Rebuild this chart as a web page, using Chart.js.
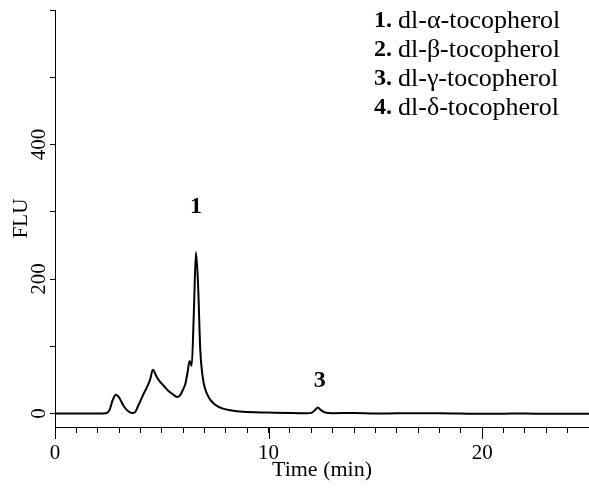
<!DOCTYPE html>
<html>
<head>
<meta charset="utf-8">
<script src="https://cdn.jsdelivr.net/npm/chart.js@4.4.1/dist/chart.umd.min.js"></script>
<style>
  html, body { margin: 0; padding: 0; background: #fff; }
</style>
</head>
<body>
<canvas id="chromChart" width="589" height="489"></canvas>
<script>
// chromatogram trace (time in min, FLU)
const timeMin = [0, 1, 2, 2.4, 2.55, 2.7, 2.85, 3.0, 3.2, 3.4, 3.6, 3.75, 3.9, 4.1, 4.3, 4.45, 4.58,
  4.75, 4.92, 5.1, 5.3, 5.5, 5.72, 5.85, 6.0, 6.1, 6.2, 6.3, 6.4, 6.5, 6.6, 6.7, 6.8, 6.9, 7.0,
  7.2, 7.5, 7.8, 8.2, 8.8, 10, 11, 11.8, 12.0, 12.2, 12.3, 12.45, 12.65, 13, 14, 15, 16, 17, 18,
  19, 20, 21, 22, 23, 24, 25];
const fluValues = [0, 0, 0, 0.5, 5, 20, 28, 24, 12, 4, 0.8, 2, 12, 26, 39, 50, 65,
  55, 47, 41, 34, 29, 24.6, 27, 36, 44, 60, 78, 71, 150, 240, 190, 95, 58, 40,
  24, 13, 8, 5, 2.5, 1.5, 0.8, 0.5, 1, 6, 9, 5, 1.5, 0.5, 0.8, 0, 0.3, 0.5, 0.3,
  0, -0.3, -0.2, 0, -0.3, -0.3, -0.3];

const xTickValues = [0, 1, 2, 3, 4, 5, 6, 7, 8, 9, 10, 11, 12, 13, 14, 15, 16, 17, 18, 19, 20, 21, 22, 23, 24, 25];
const xMajorTicks = [0, 10, 20];
const yTickValues = [0, 100, 200, 300, 400, 500, 600];
const yLabelled = [0, 200, 400];

const peakLabels = ["1", "3"];
const peakTimes = [6.6, 12.4];
const peakLabelY = [307, 48];

const compoundNums = ["1.", "2.", "3.", "4."];
const compoundNames = ["dl-α-tocopherol", "dl-β-tocopherol", "dl-γ-tocopherol", "dl-δ-tocopherol"];

const serif = '"Liberation Serif", "Times New Roman", serif';

const points = timeMin.map((t, i) => ({ x: t, y: fluValues[i] }));

const annotPlugin = {
  id: 'annot',
  afterDraw(chart) {
    const { ctx } = chart;
    const x = chart.scales.x, y = chart.scales.y;
    ctx.save();
    // longer ticks at the labelled minutes
    ctx.strokeStyle = '#000';
    ctx.lineWidth = 1;
    xMajorTicks.forEach(v => {
      const px = Math.round(x.getPixelForValue(v)) + 0.5;
      ctx.beginPath();
      ctx.moveTo(px, y.bottom);
      ctx.lineTo(px, y.bottom + 12);
      ctx.stroke();
    });
    // peak numbers
    ctx.fillStyle = '#000';
    ctx.font = 'bold 24px ' + serif;
    ctx.textAlign = 'center';
    ctx.textBaseline = 'middle';
    peakLabels.forEach((lab, i) => {
      ctx.fillText(lab, x.getPixelForValue(peakTimes[i]), y.getPixelForValue(peakLabelY[i]));
    });
    // compound list, top right
    ctx.textAlign = 'left';
    compoundNums.forEach((num, i) => {
      const ty = 21 + i * 29;
      ctx.font = 'bold 24px ' + serif;
      ctx.fillText(num, 374, ty);
      ctx.font = '26px ' + serif;
      ctx.fillText(compoundNames[i], 398, ty);
    });
    ctx.restore();
  }
};

const ctx = document.getElementById('chromChart').getContext('2d');
const chromChart = new Chart(ctx, {
  type: 'line',
  data: {
    datasets: [{
      data: points,
      borderColor: '#000',
      borderWidth: 2,
      pointRadius: 0,
      cubicInterpolationMode: 'monotone',
      fill: false
    }]
  },
  options: {
    responsive: false,
    animation: false,
    layout: { padding: { top: 10, right: 0, left: 0, bottom: 0 } },
    plugins: { legend: { display: false }, tooltip: { enabled: false } },
    scales: {
      x: {
        type: 'linear',
        min: 0,
        max: 25,
        afterBuildTicks: s => { s.ticks = xTickValues.map(v => ({ value: v })); },
        afterFit: s => { s.height = 62; s.paddingLeft = 0; s.paddingRight = 0; },
        grid: { drawOnChartArea: false, tickLength: 6, tickColor: '#000', tickWidth: 1 },
        border: { color: '#000', width: 1 },
        ticks: {
          autoSkip: false, maxRotation: 0, padding: 8, color: '#000',
          font: { family: serif, size: 21 },
          callback: v => xMajorTicks.includes(v) ? String(v) : ''
        },
        title: {
          display: true, text: 'Time (min)', color: '#000',
          font: { family: serif, size: 22 }, padding: { bottom: 6, top: 0 }
        }
      },
      y: {
        min: -20,
        max: 600,
        afterBuildTicks: s => { s.ticks = yTickValues.map(v => ({ value: v })); },
        afterFit: s => { s.width = 55; s.paddingTop = 0; s.paddingBottom = 0; },
        grid: { drawOnChartArea: false, tickLength: 5, tickColor: '#000', tickWidth: 1 },
        border: { color: '#000', width: 1 },
        ticks: {
          minRotation: 90, maxRotation: 90, crossAlign: 'center', padding: -5, color: '#000',
          font: { family: serif, size: 21 },
          callback: v => yLabelled.includes(v) ? String(v) : ''
        },
        title: {
          display: true, text: 'FLU', color: '#000',
          font: { family: serif, size: 21 }, padding: { top: 9, bottom: 0 }
        }
      }
    }
  },
  plugins: [annotPlugin]
});
</script>
</body>
</html>
